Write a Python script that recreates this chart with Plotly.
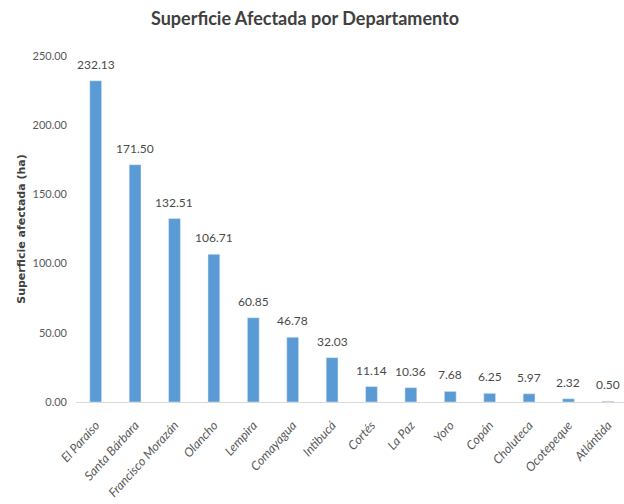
import plotly.graph_objects as go

categories = ["El Paraíso", "Santa Bárbara", "Francisco Morazán", "Olancho", "Lempira",
              "Comayagua", "Intibucá", "Cortés", "La Paz", "Yoro", "Copán",
              "Choluteca", "Ocotepeque", "Atlántida"]
values = [232.13, 171.50, 132.51, 106.71, 60.85, 46.78, 32.03, 11.14, 10.36, 7.68,
          6.25, 5.97, 2.32, 0.50]
y_ticks = [0, 50, 100, 150, 200, 250]

font_narrow = "Lato, sans-serif"

fig = go.Figure(go.Bar(
    x=categories, y=values,
    marker=dict(color="#5B9BD5"),
    cliponaxis=False,
))

for c, v in zip(categories, values):
    fig.add_annotation(x=c, y=v, text=f"{v:.2f}", showarrow=False,
                       yanchor="bottom", yshift=7,
                       font=dict(family=font_narrow, size=12, color="#4a4a4a"))

fig.update_layout(
    width=624, height=504,
    margin=dict(l=76, r=0, t=56, b=102),
    paper_bgcolor="white", plot_bgcolor="white",
    bargap=0.70,
    showlegend=False,
    title=dict(text="<b>Superficie Afectada por Departamento</b>",
               x=305 / 624, xanchor="center", y=0.962, yanchor="middle",
               font=dict(family=font_narrow, size=18, color="#404040")),
    xaxis=dict(
        range=[-0.5, 13.41],
        tickangle=-48, showgrid=False, showline=True, linecolor="#D9D9D9", linewidth=1,
        ticks="", automargin=False, ticklabelstandoff=10,
        tickfont=dict(family=font_narrow, size=12.5, color="#595959", style="italic"),
    ),
    yaxis=dict(
        range=[0, 250], tickvals=y_ticks, tickformat=".2f", showgrid=False,
        zeroline=False, showline=False, ticks="", automargin=False,
        ticklabelstandoff=8,
        tickfont=dict(family=font_narrow, size=11, color="#595959"),
        title=dict(text="<b>Superficie afectada (ha)</b>", standoff=4,
                   font=dict(family="DejaVu Sans, sans-serif", size=11, color="#404040")),
    ),
)

fig.write_html("out.html", config={"displayModeBar": False},
               post_script="document.body.style.margin='0';")
